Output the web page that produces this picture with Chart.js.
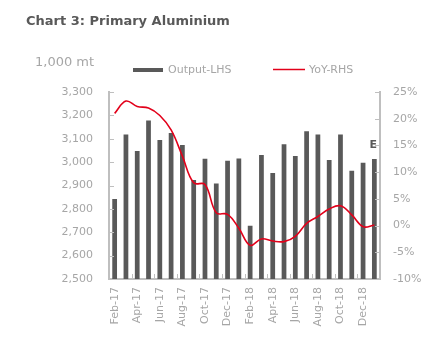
<!DOCTYPE html>
<html>
<head>
<meta charset="utf-8">
<script src="https://cdn.jsdelivr.net/npm/chart.js@4"></script>
<style>
html,body{margin:0;padding:0;background:#fff;}
#wrap{position:relative;width:438px;height:358px;}
</style>
</head>
<body>
<div id="wrap"><canvas id="c" width="438" height="358"></canvas></div>
<script>
const months = ["Feb-17","Mar-17","Apr-17","May-17","Jun-17","Jul-17","Aug-17","Sep-17","Oct-17","Nov-17","Dec-17","Jan-18",
                "Feb-18","Mar-18","Apr-18","May-18","Jun-18","Jul-18","Aug-18","Sep-18","Oct-18","Nov-18","Dec-18","Jan-19"];
const output = [2842,3118,3048,3178,3095,3125,3073,2923,3014,2909,3006,3016,
                2728,3031,2954,3077,3026,3132,3118,3009,3118,2963,2997,3013];
const yoy = [21.0,23.3,22.3,22.0,20.6,17.9,13.0,8.0,7.7,2.4,2.1,-0.5,
             -3.7,-2.5,-2.9,-3.0,-2.0,0.4,1.7,3.1,3.7,2.0,-0.2,0.1];
const leftTicks = {min:2500, max:3300, step:100};
const rightTicks = {min:-10, max:25, step:5};
const titleText = "Chart 3: Primary Aluminium";
const unitText = "1,000 mt";
const seriesNames = ["Output-LHS","YoY-RHS"];

Chart.defaults.font.family = "'DejaVu Sans', sans-serif";
Chart.defaults.font.size = 11;
Chart.defaults.color = "#A6A6A6";

const axisColor = "#BFBFBF";
const barColor = "#595959";
const lineColor = "#E2001A";

const decor = {
  id: 'decor',
  afterDraw(chart) {
    const ctx = chart.ctx;
    const a = chart.chartArea;
    const x = chart.scales.x, y = chart.scales.y, y1 = chart.scales.y1;
    ctx.save();
    // inward ticks
    ctx.strokeStyle = axisColor;
    ctx.lineWidth = 1;
    ctx.beginPath();
    for (let v = leftTicks.min; v <= leftTicks.max; v += leftTicks.step) {
      const p = Math.round(y.getPixelForValue(v)) + 0.5;
      ctx.moveTo(a.left, p); ctx.lineTo(a.left + 5, p);
    }
    for (let v = rightTicks.min; v <= rightTicks.max; v += rightTicks.step) {
      const p = Math.round(y1.getPixelForValue(v)) + 0.5;
      ctx.moveTo(a.right - 5, p); ctx.lineTo(a.right, p);
    }
    for (let i = 1; i < months.length - 1; i += 2) {
      const p = Math.round((x.getPixelForValue(i) + x.getPixelForValue(i + 1)) / 2) + 0.5;
      ctx.moveTo(p, a.bottom); ctx.lineTo(p, a.bottom - 5);
    }
    ctx.stroke();
    // title
    ctx.fillStyle = "#595959";
    ctx.font = "bold 13px 'DejaVu Sans'";
    ctx.textBaseline = "alphabetic";
    ctx.textAlign = "left";
    ctx.fillText(titleText, 26, 25);
    // unit
    ctx.fillStyle = "#A6A6A6";
    ctx.font = "13px 'DejaVu Sans'";
    ctx.fillText(unitText, 35, 66);
    // legend
    ctx.font = "11px 'DejaVu Sans'";
    ctx.textBaseline = "middle";
    ctx.fillStyle = barColor;
    ctx.fillRect(133, 68, 30, 4);
    ctx.fillStyle = "#A6A6A6";
    ctx.fillText(seriesNames[0], 168, 70);
    ctx.strokeStyle = lineColor;
    ctx.lineWidth = 1.5;
    ctx.beginPath(); ctx.moveTo(273, 69.5); ctx.lineTo(305, 69.5); ctx.stroke();
    ctx.fillStyle = "#A6A6A6";
    ctx.fillText(seriesNames[1], 309, 70);
    // E mark
    ctx.fillStyle = "#595959";
    ctx.font = "bold 11px 'DejaVu Sans'";
    ctx.textAlign = "right";
    ctx.fillText("E", a.right - 3, y1.getPixelForValue(15));
    ctx.restore();
  }
};

new Chart(document.getElementById('c'), {
  data: {
    labels: months,
    datasets: [
      {type:'line', label: seriesNames[1], data: yoy, yAxisID:'y1', borderColor: lineColor, borderWidth: 1.6,
       pointRadius: 0, tension: 0.4, fill:false, order: 1},
      {type:'bar', label: seriesNames[0], data: output, yAxisID:'y', backgroundColor: barColor,
       barPercentage: 0.42, categoryPercentage: 1, order: 2}
    ]
  },
  options: {
    responsive: false,
    animation: false,
    layout: {padding: {top: 92, left: 0, right: 0, bottom: 0}},
    plugins: {legend: {display:false}, tooltip: {enabled:false}, title:{display:false}},
    scales: {
      x: {
        offset: true,
        grid: {display: false, drawTicks: false},
        border: {display: true, color: axisColor, width: 2},
        ticks: {autoSkip: false, minRotation: 90, maxRotation: 90, padding: 8, color: "#A6A6A6",
                callback: function(v, i) { return i % 2 === 0 ? months[i] : ''; }},
        afterFit: s => { s.height = 79; }
      },
      y: {
        position: 'left', min: leftTicks.min, max: leftTicks.max,
        grid: {drawOnChartArea: false, drawTicks: false},
        border: {display: true, color: axisColor, width: 2},
        ticks: {stepSize: leftTicks.step, padding: 16, color: "#A6A6A6"},
        afterFit: s => { s.width = 109; }
      },
      y1: {
        position: 'right', min: rightTicks.min, max: rightTicks.max,
        grid: {drawOnChartArea: false, drawTicks: false},
        border: {display: true, color: axisColor, width: 2},
        ticks: {stepSize: rightTicks.step, padding: 13, color: "#A6A6A6", callback: v => v + '%'},
        afterFit: s => { s.width = 58; }
      }
    }
  },
  plugins: [decor]
});
</script>
</body>
</html>
